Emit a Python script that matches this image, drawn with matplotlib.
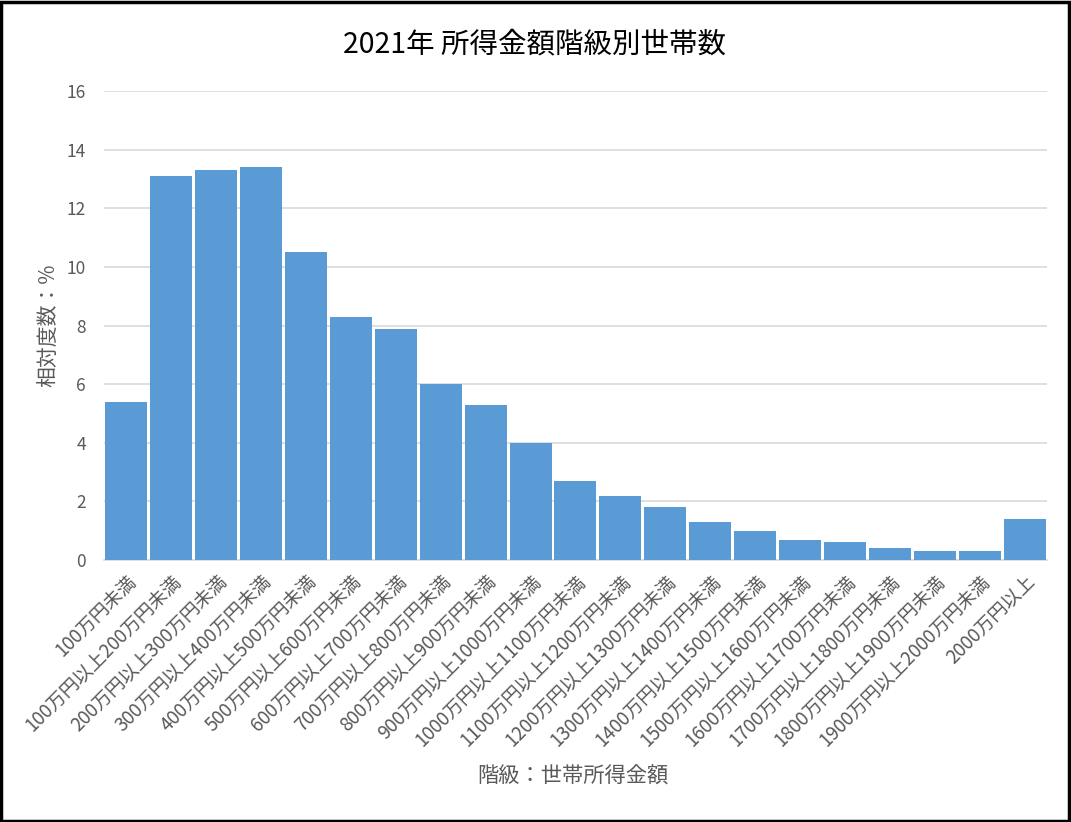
import matplotlib.pyplot as plt
from matplotlib.patches import Rectangle

plt.rcParams['font.family'] = ['Noto Sans CJK JP', 'DejaVu Sans']

# 所得金額階級
categories = ['100万円未満', '100万円以上200万円未満', '200万円以上300万円未満',
              '300万円以上400万円未満', '400万円以上500万円未満', '500万円以上600万円未満',
              '600万円以上700万円未満', '700万円以上800万円未満', '800万円以上900万円未満',
              '900万円以上1000万円未満', '1000万円以上1100万円未満', '1100万円以上1200万円未満',
              '1200万円以上1300万円未満', '1300万円以上1400万円未満', '1400万円以上1500万円未満',
              '1500万円以上1600万円未満', '1600万円以上1700万円未満', '1700万円以上1800万円未満',
              '1800万円以上1900万円未満', '1900万円以上2000万円未満', '2000万円以上']
# 相対度数 (%)
values = [5.4, 13.1, 13.3, 13.4, 10.5, 8.3, 7.9, 6.0, 5.3, 4.0, 2.7,
          2.2, 1.8, 1.3, 1.0, 0.7, 0.6, 0.4, 0.3, 0.3, 1.4]
yticks = [0, 2, 4, 6, 8, 10, 12, 14, 16]

gray = '#595959'

fig = plt.figure(figsize=(10.71, 8.22), dpi=100)
ax = fig.add_axes([0.097, 0.3187, 0.8806, 0.5703])

x = range(len(categories))
ax.bar(x, values, width=0.935, color='#5B9BD5', zorder=3)

ax.set_xlim(-0.5, len(categories) - 0.5)
ax.set_ylim(0, 16)
ax.set_yticks(yticks)
ax.set_yticklabels([str(t) for t in yticks], color=gray, fontsize=12.5)
ax.set_xticks(list(x))
ax.set_xticklabels(categories, rotation=45, ha='right', rotation_mode='anchor',
                   color=gray, fontsize=13.5)
ax.tick_params(axis='both', length=0)
ax.tick_params(axis='y', pad=13)
ax.tick_params(axis='x', pad=8)

ax.grid(axis='y', color='#D9D9D9', linewidth=1.2, zorder=0)
for s in ['top', 'right', 'left']:
    ax.spines[s].set_visible(False)
ax.spines['bottom'].set_color('#D9D9D9')
ax.spines['bottom'].set_linewidth(1.2)

ax.set_ylabel('相対度数：%', color=gray, fontsize=15, labelpad=5)
fig.text(0.535, 0.055, '階級：世帯所得金額', color=gray, fontsize=15.3, ha='center', va='center')
fig.text(0.499, 0.946, '2021年 所得金額階級別世帯数', color='black', fontsize=20.5, ha='center', va='center')

fig.patches.append(Rectangle((0.001, 0.001), 0.997, 0.997, transform=fig.transFigure,
                             fill=False, edgecolor='black', linewidth=2.5))

fig.savefig('out.png', dpi=100)
